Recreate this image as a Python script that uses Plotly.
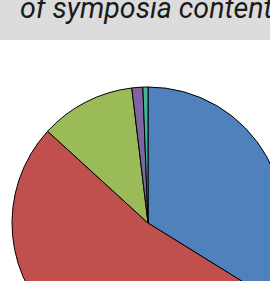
import plotly.graph_objects as go

# Data
categories = ["Category 1", "Category 2", "Category 3", "Category 4", "Category 5"]
shares = [33.8, 52.9, 11.3, 1.3, 0.6]
slice_colors = ["#4F81BD", "#C0504D", "#9BBB59", "#8064A2", "#43B59B"]
title_line = "of symposia content"

W, H = 296, 359

fig = go.Figure(
    go.Pie(
        labels=categories,
        values=shares,
        sort=False,
        direction="clockwise",
        rotation=0,
        marker=dict(colors=slice_colors, line=dict(color="black", width=1)),
        textinfo="none",
        hoverinfo="label+percent",
        showlegend=False,
        domain=dict(x=[0, 1], y=[0, 1 - 87 / H]),
    )
)

fig.add_shape(
    type="rect", xref="paper", yref="paper",
    x0=0, x1=1, y0=1 - 40 / H, y1=1,
    fillcolor="#DCDCDC", line=dict(width=0), layer="below",
)

fig.add_annotation(
    text=title_line, xref="paper", yref="paper",
    x=18 / W, y=1 - 8 / H, xanchor="left", yanchor="middle",
    showarrow=False,
    font=dict(family="Roboto", size=28.6, color="#1a1a1a", style="italic"),
)

fig.update_layout(
    width=W, height=H,
    margin=dict(l=0, r=0, t=0, b=0),
    paper_bgcolor="white", plot_bgcolor="white",
)

fig.write_html(
    "out.html",
    config={"displayModeBar": False},
    post_script=(
        "document.body.style.margin='0';"
        "document.body.style.overflow='hidden';"
        "document.documentElement.style.overflow='hidden';"
    ),
)
